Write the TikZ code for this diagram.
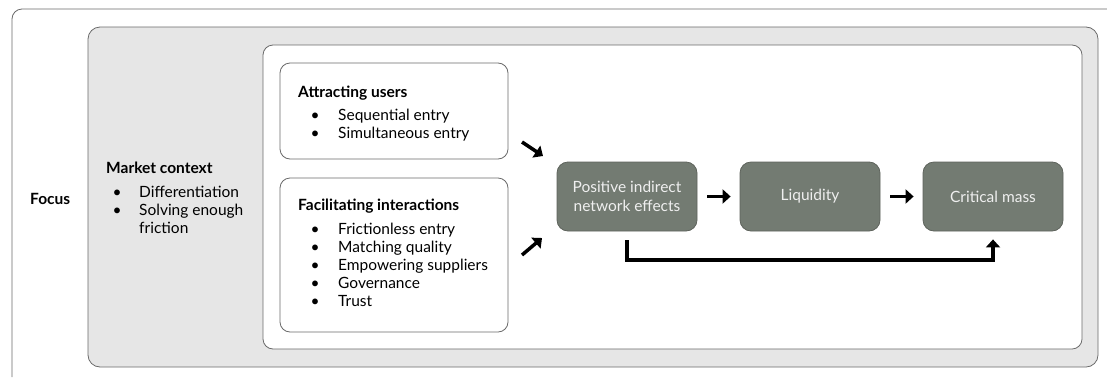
\documentclass[tikz,border=0pt]{standalone}
\usepackage{fontspec}
\setmainfont{Lato}
\usetikzlibrary{arrows.meta}
\definecolor{panelgray}{HTML}{E6E6E6}
\definecolor{edgegray}{HTML}{6A6A6A}
\definecolor{sage}{HTML}{737B72}
\definecolor{sageedge}{HTML}{5E635C}
\definecolor{paletext}{HTML}{EFEFEF}
% bullet with its text starting at a fixed offset
\newcommand\bulA{\makebox[40pt][l]{\hspace{12.5pt}\textbullet}}
\newcommand\bulB{\makebox[33pt][l]{\hspace{6.5pt}\textbullet}}
\tikzset{
  % lists are anchored on the baseline of their last line
  listtext/.style={anchor=base west, inner sep=0pt, align=left,
    font=\fontsize{15.5}{18}\selectfont},
  whitebox/.style={draw=edgegray, fill=white, rounded corners=10pt, line width=0.8pt},
  stagebox/.style={draw=sageedge, fill=sage, rounded corners=11pt, line width=0.8pt,
    minimum width=140pt, minimum height=69pt, inner sep=0pt, align=center,
    text=paletext, font=\fontsize{15.5}{19}\selectfont},
  flow/.style={line width=3.5pt, -{Triangle[length=8pt,width=14pt]}},
}
\begin{document}
\begin{tikzpicture}[x=1pt,y=-1pt]
\useasboundingbox (0,0) rectangle (1107,378);
% open outer frame
\draw[edgegray, line width=0.8pt, rounded corners=10pt] (12,377) -- (12,9) -- (1107,9);
% grey focus panel and inner white panel
\draw[draw=edgegray, fill=panelgray, line width=0.8pt, rounded corners=12pt] (88,27) rectangle (1098,367);
\draw[whitebox] (263,45) rectangle (1082,349);
% list boxes
\draw[whitebox] (280,63) rectangle (508,159);
\draw[whitebox] (280,178) rectangle (508,332);

\node[listtext, font=\fontsize{15.5}{18}\selectfont\bfseries] (focus) at (30,204) {Focus};
\node[listtext] (market) at (106,233) {\textbf{Market context}\\[6pt]
  \bulB Differentiation\\ \bulB Solving enough\\ \hspace*{33pt}friction};
\node[listtext] (attract) at (298,138) {\textbf{Attracting users}\\[5pt]
  \bulA Sequential entry\\ \bulA Simultaneous entry};
\node[listtext] (facil) at (298,306) {\textbf{Facilitating interactions}\\[6pt]
  \bulA Frictionless entry\\ \bulA Matching quality\\ \bulA Empowering suppliers\\
  \bulA Governance\\ \bulA Trust};

% stages
\node[stagebox] (pine) at (627,196.5) {Positive indirect\\network effects};
\node[stagebox] (liq) at (810,196.5) {Liquidity};
\node[stagebox] (crit) at (993,196.5) {Critical mass};

% inputs into the first stage
\coordinate (a1) at (522,142);
\coordinate (a2) at (543,156);
\coordinate (b1) at (522,255);
\coordinate (b2) at (542,238);
\draw[flow] (a1) -- (a2);
\draw[flow] (b1) -- (b2);

% stage chain
\draw[flow, shorten <=10pt, shorten >=9pt] (pine) -- (liq);
\draw[flow, shorten <=10pt, shorten >=9pt] (liq) -- (crit);
\draw[flow, shorten <=9pt, shorten >=8pt]
  (pine.south) -- ++(0,28.5) -| (crit.south);
\end{tikzpicture}
\end{document}
